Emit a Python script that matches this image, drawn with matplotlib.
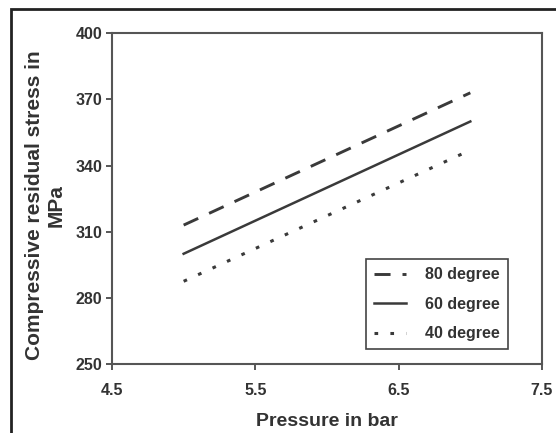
import matplotlib
matplotlib.use("Agg")
import matplotlib.pyplot as plt
from matplotlib.patches import Rectangle

plt.rcParams["font.family"] = ["Liberation Sans", "DejaVu Sans"]
plt.rcParams["font.weight"] = "bold"

# data
pressure = [5.0, 7.0]
stress_80 = [313, 373]
stress_60 = [300, 360]
stress_40 = [287.5, 347]
x_ticks = [4.5, 5.5, 6.5, 7.5]
y_ticks = [250, 280, 310, 340, 370, 400]

INK = "#3a3a3a"
TXT = "#333333"

fig = plt.figure(figsize=(5.56, 4.33), dpi=100)
ax = fig.add_axes([0.2014, 0.1594, 0.7734, 0.7637])

ax.plot(pressure, stress_80, color=INK, lw=2.1, dashes=(5.5, 4.1), label="80 degree")
ax.plot(pressure, stress_60, color=INK, lw=1.8, label="60 degree")
ax.plot(pressure, stress_40, color=INK, lw=2.2, dashes=(1.2, 4.0), label="40 degree")

ax.set_xlim(4.5, 7.5)
ax.set_ylim(250, 400)
ax.set_xticks(x_ticks)
ax.set_xticklabels(["4.5", "5.5", "6.5", "7.5"])
ax.set_yticks(y_ticks)
ax.tick_params(direction="out", length=4, width=1.2, color=INK,
               labelsize=11.5, labelcolor=TXT, pad=3)
ax.tick_params(axis="x", pad=9.5)
for s in ax.spines.values():
    s.set_color("#555555")
    s.set_linewidth(1.5)

ax.set_xlabel("Pressure in bar", fontsize=14, fontweight="bold", color=TXT, labelpad=11)
ax.set_ylabel("Compressive residual stress in\nMPa", fontsize=15, fontweight="bold",
              color=TXT, labelpad=7, linespacing=1.2)
ax.yaxis.label.set_y(0.48)

leg = ax.legend(loc="lower right", bbox_to_anchor=(0.921, 0.045), fontsize=11.5,
                fancybox=False, framealpha=1, edgecolor="#444444",
                handlelength=2.0, handletextpad=1.2, labelspacing=0.9,
                borderpad=0.5, borderaxespad=0)
leg.get_frame().set_linewidth(1.2)
for t in leg.get_texts():
    t.set_color(TXT)

# outer frame around the figure
fig.patches.append(Rectangle((10.5 / 556, -0.05), 1.1, 1 - 8.5 / 433 + 0.05,
                             transform=fig.transFigure, fill=False,
                             edgecolor="#222222", lw=2.0))

fig.savefig("out.png", dpi=100)
